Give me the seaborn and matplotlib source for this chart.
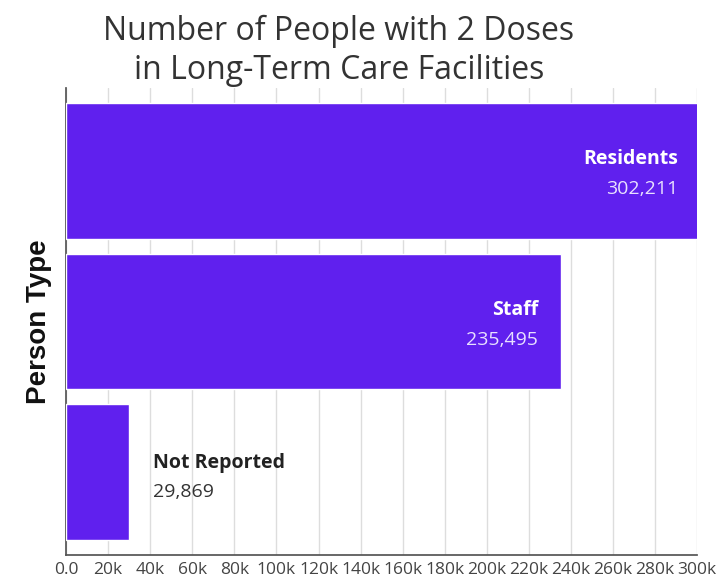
import matplotlib
matplotlib.use("Agg")
import matplotlib.pyplot as plt
import seaborn as sns
import pandas as pd

categories = ["Residents", "Staff", "Not Reported"]
values = [302211, 235495, 29869]
value_labels = ["302,211", "235,495", "29,869"]
tick_values = [0, 20000, 40000, 60000, 80000, 100000, 120000, 140000, 160000,
               180000, 200000, 220000, 240000, 260000, 280000, 300000]
tick_labels = ["0.0", "20k", "40k", "60k", "80k", "100k", "120k", "140k", "160k",
               "180k", "200k", "220k", "240k", "260k", "280k", "300k"]

sns.set_theme(style="white")
plt.rcParams['font.family'] = ['Open Sans', 'DejaVu Sans']

df = pd.DataFrame({"type": categories, "count": values})
bar_color = "#6020EE"

fig = plt.figure(figsize=(7.18, 5.8), dpi=100)
ax = fig.add_axes([0.092, 0.043, 0.879, 0.805])
sns.barplot(data=df, x="count", y="type", color=bar_color, saturation=1,
            width=0.9, ax=ax, zorder=3)

ax.set_xlim(0, 300000)
ax.set_ylim(2.55, -0.55)
ax.set_xticks(tick_values)
ax.set_xticklabels(tick_labels, fontsize=12.5, color="#444444")
ax.set_yticks([])
ax.set_xlabel("")
ax.set_ylabel("Person Type", fontsize=20, fontweight="bold", color="#111111",
              family=["Liberation Sans", "DejaVu Sans"], labelpad=10)
ax.grid(axis="x", color="#dddddd", linewidth=1, zorder=0)
ax.tick_params(axis="x", length=0, pad=5)
for s in ["top", "right"]:
    ax.spines[s].set_visible(False)
ax.spines["left"].set_color("#555555")
ax.spines["bottom"].set_color("#555555")

fs = 14
for i, (v, lab) in enumerate(zip(values, value_labels)):
    if v > 100000:
        ax.annotate(categories[i], (v, i), xytext=(-17, 1.5), textcoords="offset points",
                    ha="right", va="bottom", color="white", fontsize=fs,
                    fontweight="bold", annotation_clip=False)
        ax.annotate(lab, (v, i), xytext=(-17, -6.5), textcoords="offset points",
                    ha="right", va="top", color="#e8e0ff", fontsize=fs,
                    annotation_clip=False)
    else:
        ax.annotate(categories[i], (v, i), xytext=(17, -0.5), textcoords="offset points",
                    ha="left", va="bottom", color="#222222", fontsize=fs,
                    fontweight="bold", annotation_clip=False)
        ax.annotate(lab, (v, i), xytext=(17, -8), textcoords="offset points",
                    ha="left", va="top", color="#333333", fontsize=fs,
                    annotation_clip=False)

fig.suptitle("Number of People with 2 Doses\nin Long-Term Care Facilities",
             fontsize=23, color="#333333", x=0.472, y=0.975, linespacing=1.25)

fig.savefig("out.png", dpi=100)
